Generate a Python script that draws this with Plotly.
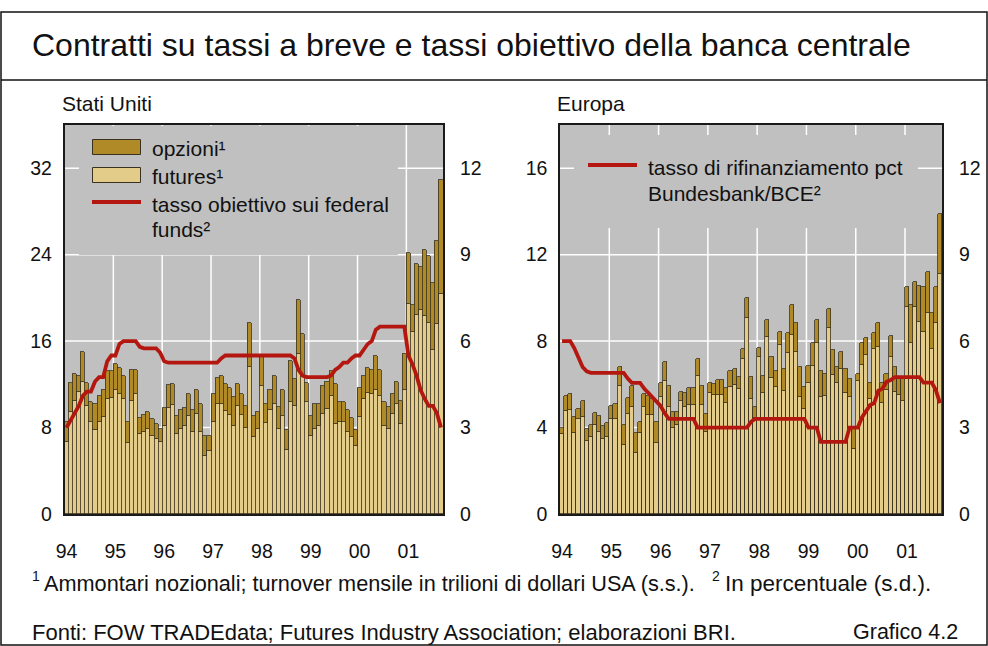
import plotly.graph_objects as go

W, H = 988, 646

# ---------------- data ----------------
years = ["94", "95", "96", "97", "98", "99", "00", "01"]
months = list(range(93))  # Jan 1994 .. Sep 2001

futures_us = [6.7, 9.4, 10.5, 11.3, 12.2, 10.0, 8.5, 7.8, 8.5, 9.0, 10.6, 10.7,
              11.5, 11.1, 10.6, 6.6, 10.5, 11.1, 7.4, 7.6, 7.9, 7.2, 6.9, 6.7,
              8.1, 9.8, 10.1, 7.4, 7.9, 8.1, 9.1, 7.6, 9.3, 7.6, 5.4, 5.8,
              8.5, 10.2, 10.2, 9.5, 9.2, 8.1, 10.0, 9.2, 8.0, 13.6, 7.1, 7.9,
              11.8, 8.4, 9.6, 10.2, 7.9, 9.1, 5.9, 10.4, 10.0, 14.8, 12.8, 10.4,
              7.2, 7.9, 8.1, 9.3, 9.7, 10.9, 8.3, 8.5, 8.5, 7.6, 7.1, 6.3,
              9.0, 10.6, 11.2, 11.1, 11.5, 10.9, 8.1, 7.9, 9.3, 10.2, 8.3, 11.5,
              19.4, 16.8, 18.4, 18.9, 18.3, 17.7, 15.2, 17.6, 20.4]
opzioni_us = [1.8, 2.7, 2.5, 1.5, 2.8, 2.1, 1.9, 2.4, 2.4, 2.5, 2.6, 2.5,
              2.4, 2.4, 2.2, 1.9, 2.8, 2.2, 1.5, 1.6, 1.5, 1.6, 1.4, 1.2,
              1.7, 2.1, 1.9, 1.7, 1.7, 1.7, 2.0, 2.0, 2.2, 2.6, 1.8, 1.4,
              2.6, 2.4, 2.6, 2.5, 2.5, 2.7, 2.0, 1.9, 2.0, 4.1, 2.0, 1.5,
              2.7, 1.8, 1.9, 2.6, 2.0, 2.4, 1.9, 3.8, 2.5, 5.0, 3.9, 1.7,
              1.9, 2.3, 2.1, 2.5, 2.5, 2.3, 3.7, 1.9, 1.9, 2.0, 1.8, 1.5,
              2.7, 2.2, 2.3, 2.2, 3.1, 2.4, 2.3, 2.0, 1.8, 2.0, 2.2, 3.3,
              4.8, 2.5, 4.7, 4.0, 6.1, 6.2, 6.2, 7.7, 10.5]
fed_funds = [3.0, 3.25, 3.5, 3.75, 4.1, 4.25, 4.25, 4.6, 4.75, 4.75, 5.3, 5.5,
             5.5, 5.9, 6.0, 6.0, 6.0, 6.0, 5.8, 5.75, 5.75, 5.75, 5.75, 5.6,
             5.3, 5.25, 5.25, 5.25, 5.25, 5.25, 5.25, 5.25, 5.25, 5.25, 5.25, 5.25,
             5.25, 5.25, 5.4, 5.5, 5.5, 5.5, 5.5, 5.5, 5.5, 5.5, 5.5, 5.5,
             5.5, 5.5, 5.5, 5.5, 5.5, 5.5, 5.5, 5.5, 5.4, 5.0, 4.8, 4.75,
             4.75, 4.75, 4.75, 4.75, 4.75, 4.8, 5.0, 5.1, 5.25, 5.25, 5.4, 5.5,
             5.5, 5.7, 5.9, 6.0, 6.4, 6.5, 6.5, 6.5, 6.5, 6.5, 6.5, 6.5,
             5.5, 5.2, 4.8, 4.3, 4.0, 3.75, 3.75, 3.5, 3.0]

futures_eu = [3.7, 4.76, 4.8, 3.73, 4.39, 4.47, 3.38, 3.55, 4.1, 3.81, 3.47, 3.55,
              4.38, 4.38, 5.92, 3.19, 4.63, 4.93, 2.8, 3.73, 4.93, 4.58, 4.58, 3.27,
              5.43, 6.15, 4.93, 4.0, 4.12, 5.23, 4.93, 5.04, 5.04, 6.4, 5.04, 3.81,
              5.58, 5.5, 5.5, 5.5, 5.12, 5.86, 5.97, 5.77, 7.15, 9.08, 5.32, 4.42,
              7.25, 5.58, 8.17, 6.31, 5.86, 7.82, 5.69, 7.43, 8.28, 7.51, 5.4, 4.86,
              6.04, 6.86, 7.89, 5.4, 5.47, 8.63, 6.43, 6.04, 6.69, 5.58, 5.4, 3.0,
              6.15, 6.89, 7.35, 5.32, 7.62, 7.71, 5.12, 5.74, 7.25, 5.66, 5.5, 5.23,
              9.6, 7.89, 9.6, 8.9, 8.43, 9.3, 7.62, 8.82, 11.1]
opzioni_eu = [0.3, 0.7, 0.75, 0.74, 0.45, 0.76, 0.54, 0.55, 0.56, 0.74, 0.6, 0.64,
              0.62, 0.71, 0.86, 0.91, 0.75, 1.01, 0.93, 0.54, 0.62, 0.88, 0.72, 1.0,
              0.61, 0.9, 1.01, 0.73, 0.61, 0.43, 0.65, 0.8, 0.8, 0.75, 0.9, 0.82,
              0.46, 0.5, 0.7, 0.7, 0.72, 0.75, 0.72, 0.55, 0.47, 0.92, 1.0, 0.51,
              0.44, 0.82, 0.83, 0.94, 0.75, 0.61, 1.0, 0.93, 1.39, 1.31, 1.38, 1.0,
              0.82, 1.03, 1.11, 1.21, 1.03, 0.84, 1.16, 0.74, 0.82, 1.11, 0.83, 0.92,
              0.35, 1.0, 0.81, 0.72, 0.74, 1.11, 0.92, 0.76, 1.0, 1.12, 0.74, 1.01,
              0.9, 1.78, 1.15, 1.66, 2.07, 1.9, 1.66, 1.68, 2.8]
refi_rate = [6.0, 6.0, 6.0, 5.75, 5.4, 5.1, 4.95, 4.9, 4.9, 4.9, 4.9, 4.9,
             4.9, 4.9, 4.9, 4.9, 4.7, 4.55, 4.55, 4.55, 4.35, 4.2, 4.07, 3.9,
             3.75, 3.5, 3.3, 3.3, 3.3, 3.3, 3.3, 3.3, 3.3, 3.0, 3.0, 3.0,
             3.0, 3.0, 3.0, 3.0, 3.0, 3.0, 3.0, 3.0, 3.0, 3.0, 3.2, 3.3,
             3.3, 3.3, 3.3, 3.3, 3.3, 3.3, 3.3, 3.3, 3.3, 3.3, 3.3, 3.3,
             3.0, 3.0, 3.0, 2.5, 2.5, 2.5, 2.5, 2.5, 2.5, 2.5, 3.0, 3.0,
             3.0, 3.35, 3.55, 3.78, 3.85, 4.28, 4.35, 4.59, 4.65, 4.75, 4.75, 4.75,
             4.75, 4.75, 4.75, 4.75, 4.56, 4.56, 4.56, 4.3, 3.85]

left_ticks_us = [0, 8, 16, 24, 32]
left_ticks_eu = [0, 4, 8, 12, 16]
right_ticks = [0, 3, 6, 9, 12]

# ---------------- style ----------------
FONT = "Liberation Sans, Arial, sans-serif"
BG = "#c0c0c0"
DARK = "#b08a26"
LIGHT = "#e3cc8a"
EDGE = "#3a3220"
RED = "#b3170f"


def px(x):
    return x / W


def py(y):
    return 1 - y / H


XL = (64.5, 443)
XR = (560, 942)
YT, YB = 125, 514

fig = go.Figure()

for xa, ya, ya2, fut, opz, rate, nm in [
    ("x", "y", "y2", futures_us, opzioni_us, fed_funds, "tasso obiettivo sui federal funds"),
    ("x2", "y3", "y4", futures_eu, opzioni_eu, refi_rate, "tasso di rifinanziamento pct Bundesbank/BCE"),
]:
    fig.add_trace(go.Bar(x=months, y=fut, name="futures", xaxis=xa, yaxis=ya,
                         marker=dict(color=LIGHT, line=dict(color=EDGE, width=0.8)),
                         showlegend=False))
    fig.add_trace(go.Bar(x=months, y=opz, name="opzioni", xaxis=xa, yaxis=ya,
                         marker=dict(color=DARK, line=dict(color=EDGE, width=0.8)),
                         showlegend=False))
    fig.add_trace(go.Scatter(x=months, y=rate, name=nm, xaxis=xa, yaxis=ya2, mode="lines",
                             line=dict(color=RED, width=3.8), showlegend=False))

tickfont = dict(family=FONT, size=19.5, color="#111")
year_idx = [12 * k for k in range(len(years))]
grid_idx = [12 * k - 0.5 for k in range(1, len(years))]


def xaxis(dom, anchor):
    return dict(domain=dom, range=[-0.5, 92.5], tickmode="array", tickvals=year_idx,
                ticktext=years, showgrid=False, ticks="", ticklabelstandoff=19,
                tickfont=tickfont, showline=True, mirror=True, linecolor="#1a1a1a",
                linewidth=1.5, zeroline=False, anchor=anchor, automargin=False)


def yleft(rng, ticks, anchor):
    return dict(domain=[py(YB), py(YT)], range=rng, tickmode="array", tickvals=ticks,
                showgrid=False, ticks="", ticklabelstandoff=7, tickfont=tickfont,
                showline=True, mirror=True, linecolor="#1a1a1a", linewidth=1.5,
                zeroline=False, anchor=anchor, automargin=False)


def yright(over, anchor):
    return dict(overlaying=over, side="right", range=[0, 13.5], tickmode="array",
                tickvals=right_ticks, showgrid=False, ticks="", ticklabelstandoff=16,
                tickfont=tickfont, showline=False, zeroline=False, anchor=anchor,
                automargin=False)


fig.update_layout(
    width=W, height=H, autosize=False,
    margin=dict(l=0, r=0, t=0, b=0, pad=0, autoexpand=False),
    paper_bgcolor="white", plot_bgcolor=BG,
    barmode="stack", bargap=0,
    font=dict(family=FONT, color="#111"),
    showlegend=False,
    xaxis=xaxis([px(XL[0]), px(XL[1])], "y"),
    yaxis=yleft([0, 36], left_ticks_us, "x"),
    yaxis2=yright("y", "x"),
    xaxis2=xaxis([px(XR[0]), px(XR[1])], "y3"),
    yaxis3=yleft([0, 18], left_ticks_eu, "x2"),
    yaxis4=yright("y3", "x2"),
)

shapes = []
GRID = dict(color="white", width=1.5)
# gridlines (drawn as below-layer shapes so the legend boxes can hide them)
for xa, ya, ticks in [("x", "y", left_ticks_us), ("x2", "y3", left_ticks_eu)]:
    for t in ticks[1:]:
        shapes.append(dict(type="line", xref=xa + " domain", yref=ya, x0=0, x1=1,
                           y0=t, y1=t, line=GRID, layer="below"))
    for g in grid_idx:
        shapes.append(dict(type="line", xref=xa, yref=ya + " domain", x0=g, x1=g,
                           y0=0, y1=1, line=GRID, layer="below"))


def dom_rect(xr, yr, x0, x1, y0, y1, P):
    # legend background inside panel P (pixel box)
    return dict(type="rect", xref=xr + " domain", yref=yr + " domain",
                x0=(x0 - P[0]) / (P[1] - P[0]), x1=(x1 - P[0]) / (P[1] - P[0]),
                y0=(YB - y1) / (YB - YT), y1=(YB - y0) / (YB - YT),
                fillcolor=BG, line=dict(width=0), layer="below")


shapes.append(dom_rect("x", "y", 79, 398, YT + 1, 255, XL))
shapes.append(dom_rect("x2", "y3", 574, 918, 135, 228, XR))

# outer frame and title separator
shapes.append(dict(type="rect", xref="paper", yref="paper", x0=px(1), x1=px(987),
                   y0=py(645), y1=py(12), line=dict(color="#111", width=1.5),
                   fillcolor="rgba(0,0,0,0)", layer="above"))
shapes.append(dict(type="line", xref="paper", yref="paper", x0=px(1), x1=px(987),
                   y0=py(80), y1=py(80), line=dict(color="#111", width=1.5), layer="above"))

# legend swatches
shapes.append(dict(type="rect", xref="paper", yref="paper", x0=px(92.5), x1=px(140.5),
                   y0=py(154.5), y1=py(139.5), fillcolor=DARK,
                   line=dict(color=EDGE, width=1), layer="above"))
shapes.append(dict(type="rect", xref="paper", yref="paper", x0=px(92.5), x1=px(140.5),
                   y0=py(182.5), y1=py(167.5), fillcolor=LIGHT,
                   line=dict(color=EDGE, width=1), layer="above"))
shapes.append(dict(type="line", xref="paper", yref="paper", x0=px(92), x1=px(141),
                   y0=py(202), y1=py(202), line=dict(color=RED, width=3.8), layer="above"))
shapes.append(dict(type="line", xref="paper", yref="paper", x0=px(588), x1=px(637),
                   y0=py(165), y1=py(165), line=dict(color=RED, width=3.8), layer="above"))

ann = []


def text(x, y, t, size, anchor="left"):
    ann.append(dict(x=px(x), y=py(y), xref="paper", yref="paper", text=t, showarrow=False,
                    xanchor=anchor, yanchor="middle", borderpad=0,
                    font=dict(family=FONT, size=size, color="#111")))


text(31, 45, "Contratti su tassi a breve e tassi obiettivo della banca centrale", 32)
text(61, 103, "Stati Uniti", 21)
text(556, 103, "Europa", 21)
text(151, 148, "opzioni¹", 21)
text(151, 176, "futures¹", 21)
text(151, 204, "tasso obiettivo sui federal", 21)
text(151, 229, "funds²", 21)
text(647, 167, "tasso di rifinanziamento pct", 21)
text(647, 193, "Bundesbank/BCE²", 21)
text(31, 576, "1", 14)
text(43, 583, "Ammontari nozionali; turnover mensile in trilioni di dollari USA (s.s.).", 21.7)
text(711, 576, "2", 14)
text(724, 583, "In percentuale (s.d.).", 22.5)
text(31, 632, "Fonti: FOW TRADEdata; Futures Industry Association; elaborazioni BRI.", 22)
text(959, 632, "Grafico 4.2", 21.5, anchor="right")

fig.update_layout(shapes=shapes, annotations=ann)

fig.write_html("out.html", config={"displayModeBar": False},
               post_script="document.body.style.margin='0';document.body.style.overflow='hidden';")
